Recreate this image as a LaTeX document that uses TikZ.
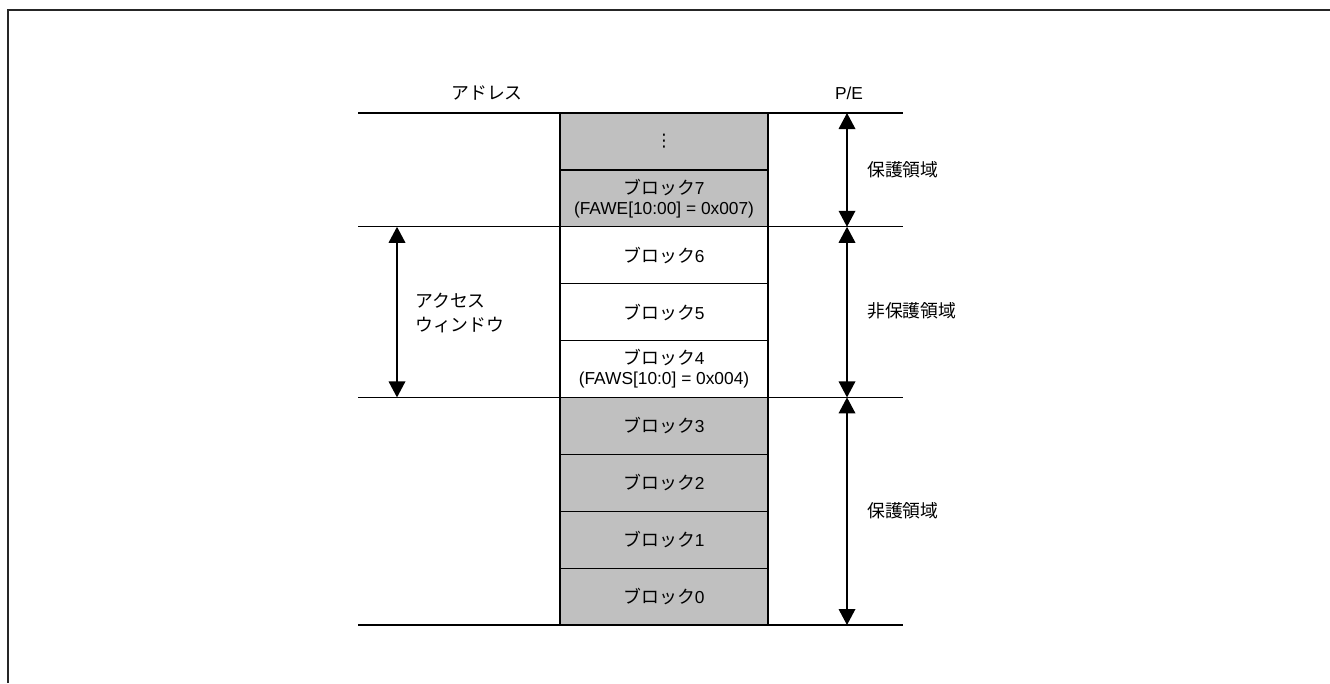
\documentclass[tikz,border=0pt]{standalone}
\usepackage{fontspec}
\setmainfont{Liberation Sans}
\newfontfamily\cjk[Scale=1.03]{Noto Sans CJK JP}
\newfontfamily\symfont{DejaVu Sans}
\usetikzlibrary{arrows.meta}
\definecolor{blockgray}{RGB}{192,192,192}
\newcommand{\jp}[1]{{\cjk #1}}
\tikzstyle{graybox} = [rectangle, minimum width=156pt, minimum height=42.675pt, text centered, align=center, draw=black, fill=blockgray, line width=1pt]
\tikzstyle{whitebox} = [graybox, fill=white]
\tikzstyle{sepline} = [line width=1pt]
\tikzstyle{arrow} = [line width=1pt, {Triangle[width=12.5pt,length=12pt]}-{Triangle[width=12.5pt,length=12pt]}]
\tikzstyle{areatext} = [inner sep=0pt, anchor=west, align=left]

\begin{document}
\begin{tikzpicture}[x=0.75pt, y=-0.75pt, node distance=42.675pt, font=\fontsize{13pt}{15pt}\selectfont]
\useasboundingbox (0,0) rectangle (1330,683);
% frame
\draw [line width=1.1pt, black!85] (8,683) -- (8,10) -- (1330,10);

% boundaries
\coordinate (t0) at (358,113);   \coordinate (e0) at (903,113);
\coordinate (t1) at (358,226.8); \coordinate (e1) at (903,226.8);
\coordinate (t2) at (358,397.4); \coordinate (e2) at (903,397.4);
\coordinate (t3) at (358,625);   \coordinate (e3) at (903,625);
\draw [sepline] (t0) -- (e0);
\draw [sepline] (t1) -- (e1);
\draw [sepline] (t2) -- (e2);
\draw [sepline] (t3) -- (e3);

% blocks
\node (dots) [graybox] at (664,141.45) {{\symfont ⋮}};
\node (blk7) [graybox, below of=dots] {\jp{ブロック}7\\(FAWE[10:00] = 0x007)};
\node (blk6) [whitebox, below of=blk7] {\jp{ブロック}6};
\node (blk5) [whitebox, below of=blk6] {\jp{ブロック}5};
\node (blk4) [whitebox, below of=blk5] {\jp{ブロック}4\\(FAWS[10:0] = 0x004)};
\node (blk3) [graybox, below of=blk4] {\jp{ブロック}3};
\node (blk2) [graybox, below of=blk3] {\jp{ブロック}2};
\node (blk1) [graybox, below of=blk2] {\jp{ブロック}1};
\node (blk0) [graybox, below of=blk1] {\jp{ブロック}0};

% headings and areas
\node (addr) at (487,93) {\jp{アドレス}};
\node (pe) at (849,93) {P/E};
\node (prot1) [areatext] at (867,170) {\jp{保護領域}};
\node (unprot) [areatext] at (867,311) {\jp{非保護領域}};
\node (prot2) [areatext] at (867,511) {\jp{保護領域}};
\node (win) [areatext, font=\fontsize{13pt}{17.5pt}\selectfont] at (415,313) {\jp{アクセス}\\\jp{ウィンドウ}};

\coordinate (p0) at (847,113);
\coordinate (p1) at (847,226.8);
\coordinate (p2) at (847,397.4);
\coordinate (p3) at (847,625);
\coordinate (w1) at (397,226.8);
\coordinate (w2) at (397,397.4);
\draw [arrow] (p0) -- (p1);
\draw [arrow] (p1) -- (p2);
\draw [arrow] (p2) -- (p3);
\draw [arrow] (w1) -- (w2);

\end{tikzpicture}
\end{document}
